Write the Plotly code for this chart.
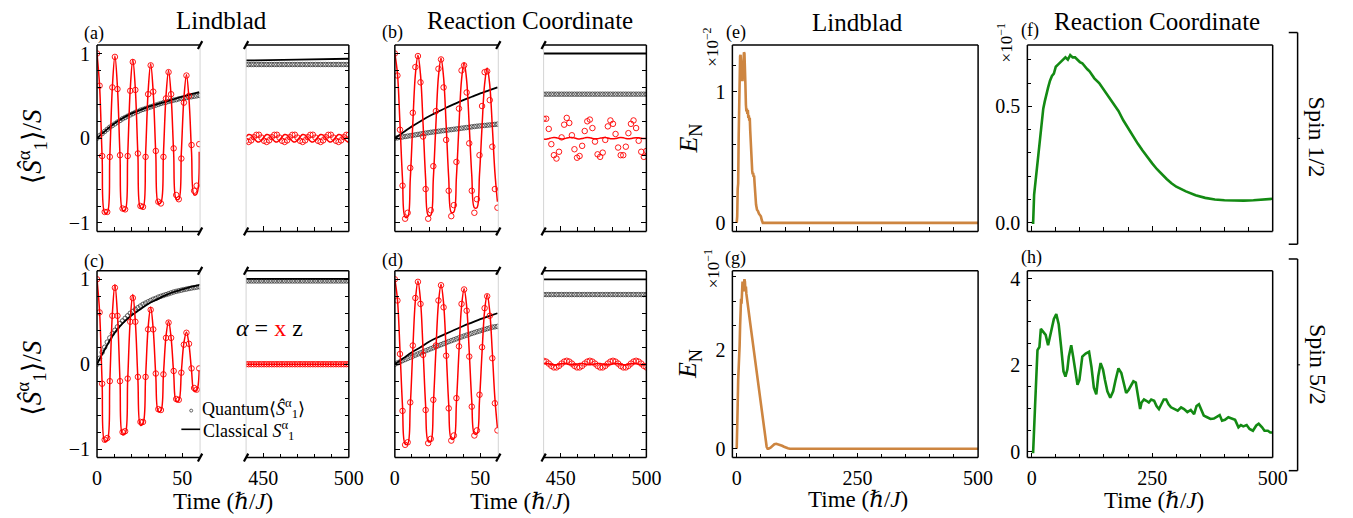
import plotly.graph_objects as go

W, H = 1353, 518

# ---------------- time grids ----------------
T_L = [0, 1.5, 3, 4.5, 6, 7.5, 9, 10.5, 12, 13.5, 15, 16.5, 18, 19.5, 21, 22.5, 24, 25.5, 27, 28.5,
       30, 31.5, 33, 34.5, 36, 37.5, 39, 40.5, 42, 43.5, 45, 46.5, 48, 49.5, 51, 52.5, 54, 55.5, 57, 58.5, 60]
T_R = [440, 441.5, 443, 444.5, 446, 447.5, 449, 450.5, 452, 453.5, 455, 456.5, 458, 459.5, 461, 462.5,
       464, 465.5, 467, 468.5, 470, 471.5, 473, 474.5, 476, 477.5, 479, 480.5, 482, 483.5, 485, 486.5,
       488, 489.5, 491, 492.5, 494, 495.5, 497, 498.5, 500]
T5 = [0, 5, 10, 15, 20, 25, 30, 35, 40, 45, 50, 55, 60]
T_ENDS = [440, 500]
T_R3 = [440, 470, 500]

# ---------------- (a) Lindblad, spin 1/2 ----------------
A_X_CL = [1.0, 0.62, -0.22, -0.88, -0.88, -0.22, 0.60, 0.97, 0.60, -0.21, -0.85, -0.85, -0.21, 0.58,
          0.93, 0.58, -0.20, -0.82, -0.82, -0.20, 0.55, 0.88, 0.54, -0.19, -0.77, -0.76, -0.18, 0.50,
          0.80, 0.50, -0.18, -0.72, -0.72, -0.17, 0.47, 0.75, 0.46, -0.17, -0.67, -0.66, -0.16]
A_X_Q = [1.0, 0.62, -0.21, -0.87, -0.87, -0.22, 0.60, 0.96, 0.58, -0.20, -0.83, -0.84, -0.21, 0.56,
         0.90, 0.57, -0.18, -0.80, -0.81, -0.22, 0.52, 0.86, 0.55, -0.15, -0.75, -0.77, -0.22, 0.47,
         0.78, 0.52, -0.12, -0.67, -0.72, -0.24, 0.42, 0.74, 0.50, -0.08, -0.62, -0.56, -0.07]
A_Z_CL = [0.0, 0.09, 0.17, 0.235, 0.29, 0.33, 0.37, 0.40, 0.43, 0.46, 0.49, 0.52, 0.545]
A_Z_Q = [0.0, 0.03, 0.055, 0.08, 0.105, 0.13, 0.15, 0.17, 0.19, 0.21, 0.23, 0.245, 0.26, 0.275, 0.29,
         0.305, 0.315, 0.33, 0.34, 0.35, 0.36, 0.37, 0.38, 0.39, 0.40, 0.41, 0.42, 0.425, 0.435, 0.44,
         0.45, 0.455, 0.465, 0.47, 0.475, 0.48, 0.485, 0.49, 0.495, 0.50, 0.505]
A_X_CL_R = [0.016, 0.043, 0.037, 0.003, -0.033, -0.045, -0.022, 0.016, 0.043, 0.037, 0.003, -0.033,
            -0.045, -0.022, 0.016, 0.043, 0.037, 0.003, -0.033, -0.045, -0.022, 0.016, 0.043, 0.037,
            0.003, -0.033, -0.045, -0.022, 0.016, 0.043, 0.037, 0.003, -0.033, -0.045, -0.022, 0.016,
            0.043, 0.037, 0.003, -0.033, -0.05]
A_X_Q_R = [-0.03, -0.044, -0.025, 0.012, 0.04, 0.041, 0.008, -0.03, -0.044, -0.025, 0.012, 0.04,
           0.041, 0.008, -0.03, -0.044, -0.025, 0.012, 0.04, 0.041, 0.008, -0.03, -0.044, -0.025,
           0.012, 0.04, 0.041, 0.008, -0.03, -0.044, -0.025, 0.012, 0.04, 0.041, 0.008, -0.03,
           -0.044, -0.025, 0.012, 0.04, 0.041]
A_Z_CL_R = [0.918, 0.928, 0.938]
A_Z_Q_R = [0.87, 0.87, 0.87, 0.87, 0.87, 0.87, 0.87, 0.87, 0.87, 0.87, 0.87, 0.87, 0.87, 0.87,
           0.87, 0.87, 0.87, 0.87, 0.87, 0.87, 0.87, 0.87, 0.87, 0.87, 0.87, 0.87, 0.87, 0.87,
           0.87, 0.87, 0.87, 0.87, 0.87, 0.87, 0.87, 0.87, 0.87, 0.87, 0.87, 0.87, 0.87]

# ---------------- (b) Reaction coordinate, spin 1/2 ----------------
B_X_CL = [1.0, 0.77, 0.17, -0.49, -0.93, -0.93, -0.49, 0.17, 0.75, 0.98, 0.75, 0.17, -0.48, -0.91,
          -0.91, -0.48, 0.16, 0.73, 0.945, 0.72, 0.16, -0.47, -0.875, -0.87, -0.46, 0.15, 0.69, 0.89,
          0.68, 0.15, -0.44, -0.82, -0.82, -0.43, 0.14, 0.64, 0.83, 0.63, 0.14, -0.40, -0.75]
B_X_Q = [1.0, 0.74, 0.1, -0.56, -0.95, -0.88, -0.35, 0.3, 0.84, 0.97, 0.66, 0.02, -0.6, -0.95, -0.85,
         -0.33, 0.32, 0.82, 0.93, 0.6, -0.02, -0.62, -0.92, -0.79, -0.28, 0.35, 0.8, 0.86, 0.54, -0.06,
         -0.62, -0.88, -0.72, -0.2, 0.38, 0.78, 0.79, 0.45, -0.1, -0.6, -0.82]
B_Z_CL = [0.0, 0.07, 0.14, 0.2, 0.26, 0.31, 0.36, 0.405, 0.45, 0.49, 0.53, 0.565, 0.6]
B_Z_Q = [0.0, 0.005, 0.01, 0.015, 0.02, 0.025, 0.03, 0.035, 0.04, 0.045, 0.05, 0.055, 0.06, 0.065,
         0.07, 0.074, 0.078, 0.082, 0.086, 0.09, 0.094, 0.098, 0.102, 0.106, 0.11, 0.114, 0.118,
         0.122, 0.126, 0.13, 0.134, 0.138, 0.142, 0.145, 0.148, 0.151, 0.154, 0.157, 0.16, 0.163, 0.166]
B_X_CL_R = [-0.01, -0.012, -0.005, 0.004, 0.008, 0.006, -0.002, -0.008, -0.006, 0.002, 0.008, 0.009,
            0.003, -0.005, -0.008, -0.004, 0.004, 0.009, 0.006, -0.002, -0.007, -0.006, 0.001, 0.007,
            0.008, 0.002, -0.005, -0.007, -0.003, 0.004, 0.008, 0.005, -0.002, -0.006, -0.004, 0.003,
            0.007, 0.005, -0.001, -0.004, -0.002]
B_X_Q_R = [0.23, 0.23, 0.11, -0.07, -0.2, -0.24, -0.16, 0.01, 0.16, 0.24, 0.18, 0.035, -0.13, -0.23,
           -0.21, -0.09, 0.085, 0.2, 0.22, 0.12, -0.04, -0.19, -0.22, -0.17, -0.02, 0.14, 0.21, 0.17,
           0.05, -0.11, -0.2, -0.2, -0.1, 0.06, 0.17, 0.21, 0.12, -0.03, -0.16, -0.22, -0.15]
B_Z_CL_R = [1.0, 1.0]
B_Z_Q_R = [0.52, 0.52, 0.52, 0.52, 0.52, 0.52, 0.52, 0.52, 0.52, 0.52, 0.52, 0.52, 0.52, 0.52,
           0.52, 0.52, 0.52, 0.52, 0.52, 0.52, 0.52, 0.52, 0.52, 0.52, 0.52, 0.52, 0.52, 0.52,
           0.52, 0.52, 0.52, 0.52, 0.52, 0.52, 0.52, 0.52, 0.52, 0.52, 0.52, 0.52, 0.52]

# ---------------- (c) Lindblad, spin 5/2 ----------------
C_X_CL = [1.0, 0.62, -0.22, -0.91, -0.9, -0.21, 0.59, 0.94, 0.58, -0.2, -0.83, -0.82, -0.19, 0.52,
          0.82, 0.5, -0.18, -0.72, -0.7, -0.16, 0.43, 0.67, 0.41, -0.14, -0.56, -0.55, -0.12, 0.33,
          0.51, 0.31, -0.11, -0.44, -0.43, -0.09, 0.25, 0.38, 0.23, -0.08, -0.32, -0.31, -0.07]
C_X_Q = [1.0, 0.61, -0.23, -0.89, -0.87, -0.2, 0.57, 0.9, 0.57, -0.2, -0.8, -0.79, -0.17, 0.5,
         0.78, 0.5, -0.15, -0.68, -0.68, -0.15, 0.41, 0.64, 0.41, -0.11, -0.53, -0.54, -0.12, 0.31,
         0.49, 0.31, -0.08, -0.41, -0.42, -0.1, 0.23, 0.37, 0.24, -0.05, -0.28, -0.3, -0.05]
C_Z_CL = [0.0, 0.19, 0.36, 0.48, 0.57, 0.64, 0.71, 0.76, 0.81, 0.85, 0.88, 0.91, 0.93]
C_Z_Q = [0.0, 0.07, 0.14, 0.2, 0.26, 0.31, 0.36, 0.4, 0.44, 0.48, 0.51, 0.54, 0.57, 0.6, 0.62, 0.645,
         0.665, 0.685, 0.705, 0.72, 0.735, 0.75, 0.765, 0.775, 0.79, 0.8, 0.81, 0.82, 0.83, 0.84,
         0.85, 0.858, 0.865, 0.872, 0.879, 0.885, 0.891, 0.897, 0.902, 0.907, 0.912]
C_X_CL_R = [0.0, 0.0]
C_X_Q_R = [0.0, 0.0, 0.0, 0.0, 0.0, 0.0, 0.0, 0.0, 0.0, 0.0, 0.0, 0.0, 0.0, 0.0, 0.0, 0.0, 0.0,
           0.0, 0.0, 0.0, 0.0, 0.0, 0.0, 0.0, 0.0, 0.0, 0.0, 0.0, 0.0, 0.0, 0.0, 0.0, 0.0, 0.0,
           0.0, 0.0, 0.0, 0.0, 0.0, 0.0, 0.0]
C_Z_CL_R = [1.005, 1.005]
C_Z_Q_R = [0.98, 0.98, 0.98, 0.98, 0.98, 0.98, 0.98, 0.98, 0.98, 0.98, 0.98, 0.98, 0.98, 0.98,
           0.98, 0.98, 0.98, 0.98, 0.98, 0.98, 0.98, 0.98, 0.98, 0.98, 0.98, 0.98, 0.98, 0.98,
           0.98, 0.98, 0.98, 0.98, 0.98, 0.98, 0.98, 0.98, 0.98, 0.98, 0.98, 0.98, 0.98]

# ---------------- (d) Reaction coordinate, spin 5/2 ----------------
D_X_CL = [1.0, 0.77, 0.17, -0.5, -0.94, -0.94, -0.5, 0.17, 0.75, 0.98, 0.75, 0.17, -0.49, -0.91,
          -0.91, -0.48, 0.16, 0.72, 0.94, 0.72, 0.16, -0.47, -0.88, -0.88, -0.46, 0.15, 0.68, 0.89,
          0.68, 0.15, -0.44, -0.82, -0.82, -0.43, 0.14, 0.63, 0.82, 0.62, 0.14, -0.4, -0.75]
D_X_Q = [1.0, 0.75, 0.12, -0.55, -0.95, -0.92, -0.45, 0.22, 0.78, 0.97, 0.71, 0.11, -0.54, -0.93,
         -0.88, -0.42, 0.22, 0.75, 0.93, 0.67, 0.1, -0.52, -0.9, -0.84, -0.4, 0.21, 0.71, 0.88, 0.63,
         0.09, -0.5, -0.84, -0.78, -0.36, 0.2, 0.66, 0.8, 0.57, 0.07, -0.46, -0.78]
D_Z_CL = [0.0, 0.07, 0.14, 0.2, 0.265, 0.315, 0.36, 0.405, 0.45, 0.49, 0.53, 0.565, 0.6]
D_Z_Q = [0.0, 0.014, 0.028, 0.042, 0.055, 0.068, 0.081, 0.094, 0.107, 0.12, 0.133, 0.146, 0.158,
         0.17, 0.182, 0.194, 0.206, 0.218, 0.23, 0.242, 0.254, 0.266, 0.277, 0.288, 0.299, 0.31,
         0.321, 0.332, 0.342, 0.352, 0.362, 0.372, 0.382, 0.391, 0.4, 0.409, 0.418, 0.427, 0.436,
         0.44, 0.445]
D_X_CL_R = [0.005, 0.008, 0.004, -0.003, -0.008, -0.006, 0.0, 0.006, 0.008, 0.003, -0.004, -0.008,
            -0.005, 0.001, 0.007, 0.008, 0.002, -0.005, -0.008, -0.004, 0.002, 0.007, 0.007, 0.001,
            -0.006, -0.008, -0.003, 0.003, 0.008, 0.006, -0.001, -0.006, -0.007, -0.002, 0.004, 0.008,
            0.005, -0.002, -0.007, -0.006, 0.0]
D_X_Q_R = [0.04, 0.03, 0.007, -0.02, -0.038, -0.038, -0.02, 0.007, 0.03, 0.04, 0.03, 0.007, -0.02,
           -0.038, -0.038, -0.02, 0.007, 0.03, 0.04, 0.03, 0.007, -0.02, -0.038, -0.038, -0.02,
           0.007, 0.03, 0.04, 0.03, 0.007, -0.02, -0.038, -0.038, -0.02, 0.007, 0.03, 0.04, 0.03,
           0.007, -0.02, -0.038]
D_Z_CL_R = [1.0, 1.0]
D_Z_Q_R = [0.82, 0.82, 0.82, 0.82, 0.82, 0.82, 0.82, 0.82, 0.82, 0.82, 0.82, 0.82, 0.82, 0.82,
           0.82, 0.82, 0.82, 0.82, 0.82, 0.82, 0.82, 0.82, 0.82, 0.82, 0.82, 0.82, 0.82, 0.82,
           0.82, 0.82, 0.82, 0.82, 0.82, 0.82, 0.82, 0.82, 0.82, 0.82, 0.82, 0.82, 0.82]

# ---------------- (e)-(h) log negativity ----------------
E_T = [0, 1, 2, 3, 4, 5, 6, 7, 8, 9, 10, 11, 12, 13, 14, 15, 16, 17, 18, 19, 20, 21, 22, 23, 24, 25,
       26, 27, 28, 29, 30, 31, 32, 33, 34, 35, 36, 37, 38, 39, 40, 42, 44, 46, 48, 50, 52, 54, 56,
       100, 200, 300, 400, 500]
E_V = [0, 0.05, 0.26, 0.3, 0.65, 0.98, 1.15, 1.27, 1.28, 1.12, 1.08, 1.12, 1.08, 1.18, 1.28, 1.3,
       1.29, 1.22, 1.05, 0.9, 0.85, 0.87, 0.83, 0.86, 0.8, 0.82, 0.78, 0.8, 0.7, 0.6, 0.52, 0.45, 0.4,
       0.37, 0.38, 0.35, 0.36, 0.3, 0.24, 0.18, 0.14, 0.1, 0.09, 0.07, 0.06, 0.05, 0.02, 0.0, 0.0,
       0, 0, 0, 0, 0]
F_T = [0, 3, 5, 7, 9, 11, 13, 15, 18, 21, 24, 27, 30, 34, 38, 42, 46, 50, 55, 60, 65, 70, 75, 80, 85,
       90, 95, 100, 105, 110, 115, 120, 125, 130, 140, 150, 160, 170, 180, 190, 200, 210, 220, 230,
       240, 250, 260, 270, 280, 290, 300, 320, 340, 360, 380, 400, 420, 440, 460, 480, 500]
F_V = [0, 0.0, 0.12, 0.16, 0.22, 0.25, 0.3, 0.33, 0.39, 0.43, 0.49, 0.52, 0.55, 0.58, 0.61, 0.63,
       0.64, 0.67, 0.68, 0.69, 0.7, 0.71, 0.7, 0.72, 0.71, 0.71, 0.7, 0.69, 0.685, 0.67, 0.66, 0.65,
       0.635, 0.62, 0.6, 0.57, 0.54, 0.51, 0.48, 0.44, 0.405, 0.37, 0.34, 0.31, 0.28, 0.255, 0.23,
       0.208, 0.188, 0.17, 0.155, 0.135, 0.118, 0.107, 0.1, 0.097, 0.095, 0.095, 0.097, 0.099, 0.103]
G_T = [0, 1, 2, 3, 4, 5, 6, 7, 8, 9, 10, 11, 12, 13, 14, 15, 16, 17, 18, 19, 20, 21, 22, 24, 26, 28,
       30, 32, 34, 36, 38, 40, 42, 44, 46, 48, 50, 52, 54, 56, 58, 60, 62, 64, 66, 70, 74, 78, 82, 86,
       90, 94, 98, 102, 106, 110, 200, 300, 400, 500]
G_V = [0, 0.3, 0.9, 1.4, 1.86, 2.0, 2.1, 2.5, 2.9, 3.05, 2.95, 3.3, 3.4, 3.25, 3.2, 3.35, 3.45, 3.4,
       3.2, 3.3, 3.15, 3.05, 2.95, 2.83, 2.7, 2.55, 2.4, 2.25, 2.1, 1.94, 1.8, 1.64, 1.5, 1.34, 1.2,
       1.04, 0.9, 0.74, 0.6, 0.44, 0.3, 0.15, 0.04, 0.0, 0.0, 0.02, 0.06, 0.09, 0.1, 0.09, 0.08, 0.06,
       0.04, 0.02, 0.01, 0.0, 0, 0, 0, 0]
H_T = [0, 3, 7, 12, 16, 19, 24, 29, 34, 40, 46, 51, 56, 61, 66, 70, 74, 77, 82, 86, 90, 95, 99, 105,
       112, 119, 124, 129, 134, 138, 143, 148, 152, 157, 163, 169, 174, 180, 186, 191, 196, 201, 206,
       211, 216, 220, 225, 228, 233, 238, 243, 248, 254, 259, 264, 269, 274, 279, 284, 289, 296, 303,
       310, 316, 323, 330, 337, 342, 347, 352, 357, 364, 371, 378, 384, 390, 395, 401, 408, 415, 422,
       429, 434, 439, 446, 452, 459, 466, 471, 478, 483, 490, 495, 500]
H_V = [0, 0, 1.06, 2.35, 2.42, 2.84, 2.77, 2.7, 2.46, 2.73, 3.07, 3.18, 2.95, 2.43, 1.86, 1.74, 1.9,
       2.2, 2.46, 2.2, 1.9, 1.55, 1.66, 2.2, 2.27, 2.31, 1.96, 1.48, 1.33, 1.74, 2.05, 1.9, 1.66, 1.4,
       1.25, 1.4, 1.66, 1.93, 1.82, 1.59, 1.36, 1.43, 1.52, 1.63, 1.6, 1.36, 0.99, 1.14, 1.21, 1.18,
       1.14, 1.21, 1.18, 1.06, 0.99, 1.1, 1.21, 1.21, 1.1, 1.03, 0.99, 0.95, 1.03, 0.99, 0.92, 0.97,
       0.87, 1.06, 1.1, 0.95, 0.84, 0.8, 0.76, 0.77, 0.81, 0.85, 0.72, 0.74, 0.8, 0.77, 0.74, 0.57,
       0.62, 0.59, 0.62, 0.53, 0.49, 0.61, 0.65, 0.57, 0.49, 0.49, 0.45, 0.45]

for a, b in [(E_T, E_V), (F_T, F_V), (G_T, G_V), (H_T, H_V)]:
    assert len(a) == len(b), (len(a), len(b))
for arr in [A_X_CL, A_X_Q, A_Z_Q, B_X_CL, B_X_Q, B_Z_Q, C_X_CL, C_X_Q, C_Z_Q, D_X_CL, D_X_Q, D_Z_Q,
            A_X_CL_R, A_X_Q_R, A_Z_Q_R, B_X_CL_R, B_X_Q_R, B_Z_Q_R, C_X_Q_R, C_Z_Q_R, D_X_CL_R,
            D_X_Q_R, D_Z_Q_R]:
    assert len(arr) == 41, len(arr)

# ---------------- layout helpers ----------------
FONT = "Liberation Serif, DejaVu Serif, serif"
ORANGE = "#CD8540"
GREEN = "#138A13"


def X(px):
    return px / W


def Y(py):
    return 1 - py / H


TOP = (42.7, 232.0)
BOT = (272.0, 461.7)
PANELS = {
    1: (93.4, 198.0) + TOP, 2: (244.7, 349.0) + TOP,
    3: (395.7, 500.7) + TOP, 4: (546.7, 651.0) + TOP,
    5: (93.4, 198.0) + BOT, 6: (244.7, 349.0) + BOT,
    7: (395.7, 500.7) + BOT, 8: (546.7, 651.0) + BOT,
    9: (738.3, 987.7) + TOP, 10: (1037.7, 1286.7) + TOP,
    11: (738.3, 987.7) + BOT, 12: (1037.7, 1286.7) + BOT,
}


def names(i):
    return ("x" if i == 1 else f"x{i}"), ("y" if i == 1 else f"y{i}")


fig = go.Figure()


def add_spin(i, tq, zq, tc, zc, txq, xq, txc, xc):
    xa, ya = names(i)
    fig.add_trace(go.Scatter(x=tq, y=zq, mode="markers", xaxis=xa, yaxis=ya, showlegend=False,
                             marker=dict(symbol="circle-open", size=4.5, color="#3a3a3a",
                                         line=dict(width=0.8))))
    fig.add_trace(go.Scatter(x=tc, y=zc, mode="lines", xaxis=xa, yaxis=ya, showlegend=False,
                             line=dict(color="black", width=1.8, shape="spline")))
    fig.add_trace(go.Scatter(x=txc, y=xc, mode="lines", xaxis=xa, yaxis=ya, showlegend=False,
                             line=dict(color="#ff0000", width=1.5, shape="spline")))
    fig.add_trace(go.Scatter(x=txq, y=xq, mode="markers", xaxis=xa, yaxis=ya, showlegend=False,
                             marker=dict(symbol="circle-open", size=5.5, color="#ff0000",
                                         line=dict(width=0.9))))


add_spin(1, T_L, A_Z_Q, T5, A_Z_CL, T_L, A_X_Q, T_L, A_X_CL)
add_spin(2, T_R, A_Z_Q_R, T_R3, A_Z_CL_R, T_R, A_X_Q_R, T_R, A_X_CL_R)
add_spin(3, T_L, B_Z_Q, T5, B_Z_CL, T_L, B_X_Q, T_L, B_X_CL)
add_spin(4, T_R, B_Z_Q_R, T_ENDS, B_Z_CL_R, T_R, B_X_Q_R, T_R, B_X_CL_R)
add_spin(5, T_L, C_Z_Q, T5, C_Z_CL, T_L, C_X_Q, T_L, C_X_CL)
add_spin(6, T_R, C_Z_Q_R, T_ENDS, C_Z_CL_R, T_R, C_X_Q_R, T_ENDS, C_X_CL_R)
add_spin(7, T_L, D_Z_Q, T5, D_Z_CL, T_L, D_X_Q, T_L, D_X_CL)
add_spin(8, T_R, D_Z_Q_R, T_ENDS, D_Z_CL_R, T_R, D_X_Q_R, T_R, D_X_CL_R)

for i, (t, v, c) in zip([9, 10, 11, 12], [(E_T, E_V, ORANGE), (F_T, F_V, GREEN),
                                          (G_T, G_V, ORANGE), (H_T, H_V, GREEN)]):
    xa, ya = names(i)
    fig.add_trace(go.Scatter(x=t, y=v, mode="lines", xaxis=xa, yaxis=ya, showlegend=False,
                             line=dict(color=c, width=2.6)))

TICKFONT = dict(family=FONT, size=20, color="black")
layout = dict(width=W, height=H, margin=dict(l=0, r=0, t=0, b=0), paper_bgcolor="white",
              plot_bgcolor="white", showlegend=False, font=dict(family=FONT, color="black"))


def axis_common():
    return dict(showgrid=False, zeroline=False, showline=False, ticks="inside", ticklen=5,
                tickwidth=1, tickcolor="black", tickfont=TICKFONT, ticklabelstandoff=6)


YT = [-1, 0, 1]
YMINOR = [-0.8, -0.6, -0.4, -0.2, 0.2, 0.4, 0.6, 0.8]
for i in range(1, 13):
    x0, x1, y0, y1 = PANELS[i]
    xa, ya = names(i)
    xk = "xaxis" if i == 1 else f"xaxis{i}"
    yk = "yaxis" if i == 1 else f"yaxis{i}"
    xd = axis_common()
    yd = axis_common()
    xd.update(domain=[X(x0), X(x1)], anchor=ya)
    yd.update(domain=[Y(y1), Y(y0)], anchor=xa)
    bottom = i in (5, 6, 7, 8, 11, 12)
    if i <= 8:
        left = i % 2 == 1
        if left:
            xd.update(range=[0, 60.5], tickvals=[0, 50], ticktext=["0", "50"],
                      minor=dict(tickvals=[10, 20, 30, 40], ticks="inside", ticklen=4,
                                 tickcolor="black"))
            yd.update(side="left", tickvals=YT, ticktext=["\u22121", "0", "1"],
                      showticklabels=(i in (1, 5)))
        else:
            xd.update(range=[440, 500], tickvals=[450, 500], ticktext=["450", "500"],
                      minor=dict(tickvals=[460, 470, 480, 490], ticks="inside", ticklen=4,
                                 tickcolor="black"))
            yd.update(side="right", tickvals=YT, showticklabels=False)
        yd.update(range=[-1.1, 1.1],
                  minor=dict(tickvals=YMINOR, ticks="inside", ticklen=4, tickcolor="black"))
    else:
        xd.update(range=[-9, 500], tickvals=[0, 250, 500], ticktext=["0", "250", "500"],
                  minor=dict(tickvals=[50, 100, 150, 200, 300, 350, 400, 450], ticks="inside",
                             ticklen=4, tickcolor="black"))
        if i == 9:
            yd.update(range=[-0.065, 1.355], tickvals=[0, 1], ticktext=["0", "1"],
                      minor=dict(tickvals=[0.2, 0.4, 0.6, 0.8, 1.2], ticks="inside", ticklen=4,
                                 tickcolor="black"))
        elif i == 10:
            yd.update(range=[-0.037, 0.763], tickvals=[0, 0.5], ticktext=["0.0", "0.5"],
                      minor=dict(tickvals=[0.1, 0.2, 0.3, 0.4, 0.6, 0.7], ticks="inside",
                                 ticklen=4, tickcolor="black"))
        elif i == 11:
            yd.update(range=[-0.18, 3.62], tickvals=[0, 2], ticktext=["0", "2"],
                      minor=dict(tickvals=[0.5, 1, 1.5, 2.5, 3, 3.5], ticks="inside", ticklen=4,
                                 tickcolor="black"))
        else:
            yd.update(range=[-0.13, 4.18], tickvals=[0, 2, 4], ticktext=["0", "2", "4"],
                      minor=dict(tickvals=[0.5, 1, 1.5, 2.5, 3, 3.5], ticks="inside", ticklen=4,
                                 tickcolor="black"))
    xd.update(showticklabels=bottom)
    layout[xk] = xd
    layout[yk] = yd

# ---------------- frames (spines) ----------------
shapes = []


def pline(xa_, ya_, xb_, yb_, color="black", width=1.5):
    shapes.append(dict(type="line", xref="paper", yref="paper", x0=X(xa_), y0=Y(ya_), x1=X(xb_),
                       y1=Y(yb_), line=dict(color=color, width=width), layer="above"))


for i in range(1, 13):
    x0, x1, y0, y1 = PANELS[i]
    pline(x0, y0, x1, y0)
    pline(x0, y1, x1, y1)
    if i <= 8:
        if i % 2 == 1:
            pline(x0, y0, x0, y1)
            pline(x1, y0, x1, y1, color="#c8c8c8", width=0.8)
            for yy in (y0, y1):
                pline(x1 - 2.2, yy + 4, x1 + 2.2, yy - 4, width=2.2)
        else:
            pline(x1, y0, x1, y1)
            pline(x0, y0, x0, y1, color="#c8c8c8", width=0.8)
            for yy in (y0, y1):
                pline(x0 - 2.2, yy + 4, x0 + 2.2, yy - 4, width=2.2)
    else:
        pline(x0, y0, x0, y1)
        pline(x1, y0, x1, y1)

# spin brackets
for (ya_, yb_) in [(30, 245), (260, 475)]:
    pline(1312, ya_, 1312, yb_, width=1.5)
    pline(1303, ya_, 1312, ya_, width=1.5)
    pline(1303, yb_, 1312, yb_, width=1.5)
    pline(1312, (ya_ + yb_) / 2, 1314.5, (ya_ + yb_) / 2, width=1)

# legend samples in (c)
pline(179, 433, 198, 433, width=1.6)
shapes.append(dict(type="circle", xref="paper", yref="paper", x0=X(187.5), x1=X(190.5),
                   y0=Y(415.5), y1=Y(412.5), line=dict(color="#3a3a3a", width=0.8)))

layout["shapes"] = shapes

# ---------------- text ----------------
ann = []


def text(x, y, s, size=20, angle=0, xanchor="center", yanchor="middle", color="black"):
    ann.append(dict(x=X(x), y=Y(y), xref="paper", yref="paper", text=s, showarrow=False,
                    textangle=angle, xanchor=xanchor, yanchor=yanchor,
                    font=dict(family=FONT, size=size, color=color)))


text(220, 18, "Lindblad", 25)
text(533, 18, "Reaction Coordinate", 25)
text(865, 20, "Lindblad", 25)
text(1169, 19, "Reaction Coordinate", 25)

for lab, x, y in [("(a)", 90.7, 30.7), ("(b)", 393.3, 30), ("(c)", 90.7, 262.7),
                  ("(d)", 393.3, 261.7), ("(e)", 741.7, 30), ("(f)", 1040, 28.3),
                  ("(g)", 741.7, 260), ("(h)", 1041.7, 258.3)]:
    text(x, y, lab, 18)

YLAB = "\u27e8<i>\u015c</i><sup>\u03b1</sup><sub>1</sub>\u27e9/<i>S</i>"
text(27, 146, YLAB, 27, angle=-90)
text(27, 381, YLAB, 27, angle=-90)
ENLAB = "<i>E</i><sub>N</sub>"
text(695, 138, ENLAB, 26, angle=-90)
text(695, 367, ENLAB, 26, angle=-90)

text(717, 45, "\u00d710<sup>\u22122</sup>", 17, angle=-90)
text(1015, 40, "\u00d710<sup>\u22121</sup>", 17, angle=-90)
text(717, 270, "\u00d710<sup>\u22121</sup>", 17, angle=-90)

TLAB = "Time (\u210f/<i>J</i>)"
text(221, 506, TLAB, 23)
text(523, 506, TLAB, 23)
text(866, 504, TLAB, 23)
text(1166, 505, TLAB, 23)

text(1332, 136, "Spin 1/2", 24, angle=90)
text(1332, 367, "Spin 5/2", 24, angle=90)

text(268, 330, "<i>\u03b1</i> = <span style='color:#ff0000'>x</span> z", 24)
text(198, 412, "Quantum\u27e8<i>\u015c</i><sup>\u03b1</sup><sub>1</sub>\u27e9", 18, xanchor="left")
text(199, 434, "Classical <i>S</i><sup>\u03b1</sup><sub>1</sub>", 18, xanchor="left")

layout["annotations"] = ann
fig.update_layout(**layout)

fig.write_html("out.html", config={"displayModeBar": False},
               post_script="document.body.style.margin='0px';")
